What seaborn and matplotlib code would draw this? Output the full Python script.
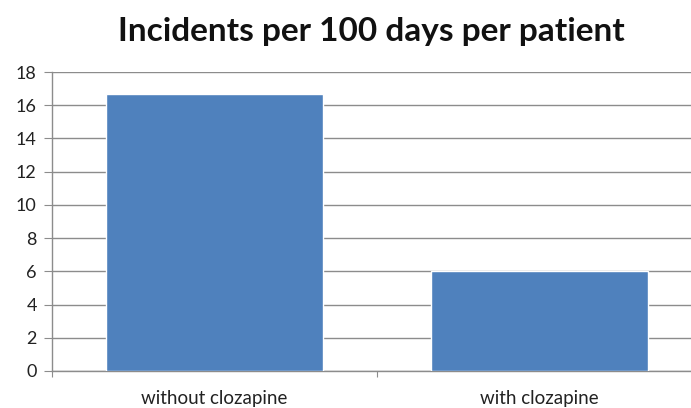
import pandas as pd
import matplotlib.pyplot as plt
import seaborn as sns

# data
groups = ["without clozapine", "with clozapine"]
incidents = [16.7, 6.0]
y_ticks = [0, 2, 4, 6, 8, 10, 12, 14, 16, 18]

df = pd.DataFrame({"group": groups, "incidents": incidents})

sns.set_style("white")
plt.rcParams["font.family"] = ["Lato", "DejaVu Sans"]

fig = plt.figure(figsize=(6.91, 4.08), dpi=100)
ax = fig.add_axes([0.0753, 0.0907, 0.9407, 0.7328])

sns.barplot(data=df, x="group", y="incidents", color="#4F81BD", saturation=1,
            width=0.667, ax=ax, zorder=3)

ax.set_ylim(0, 18)
ax.set_xlim(-0.5, 1.5)
ax.set_yticks(y_ticks)
ax.set_xticks([-0.5, 0.5, 1.5], minor=False)
ax.set_xticklabels([])
ax.set_xticks([0, 1], minor=True)
ax.set_xticklabels(groups, minor=True)

# gridlines
ax.grid(axis="y", color="#8c8c8c", linewidth=1, zorder=0)
ax.set_axisbelow(True)

for side in ["top", "right"]:
    ax.spines[side].set_visible(False)
for side in ["left", "bottom"]:
    ax.spines[side].set_color("#8c8c8c")
    ax.spines[side].set_linewidth(1)

ax.tick_params(axis="y", which="major", direction="out", length=6, color="#8c8c8c",
               left=True, labelsize=13, pad=5, labelcolor="#222222")
ax.tick_params(axis="x", which="major", direction="out", length=4, color="#8c8c8c",
               bottom=True)
ax.tick_params(axis="x", which="minor", length=0, labelsize=13.5, pad=14,
               labelcolor="#222222")

ax.set_xlabel("")
ax.set_ylabel("")

fig.text(0.5376, 0.924, "Incidents per 100 days per patient", ha="center", va="center",
         fontsize=24, fontweight="bold", color="#111111")

fig.savefig("out.png", dpi=100)
